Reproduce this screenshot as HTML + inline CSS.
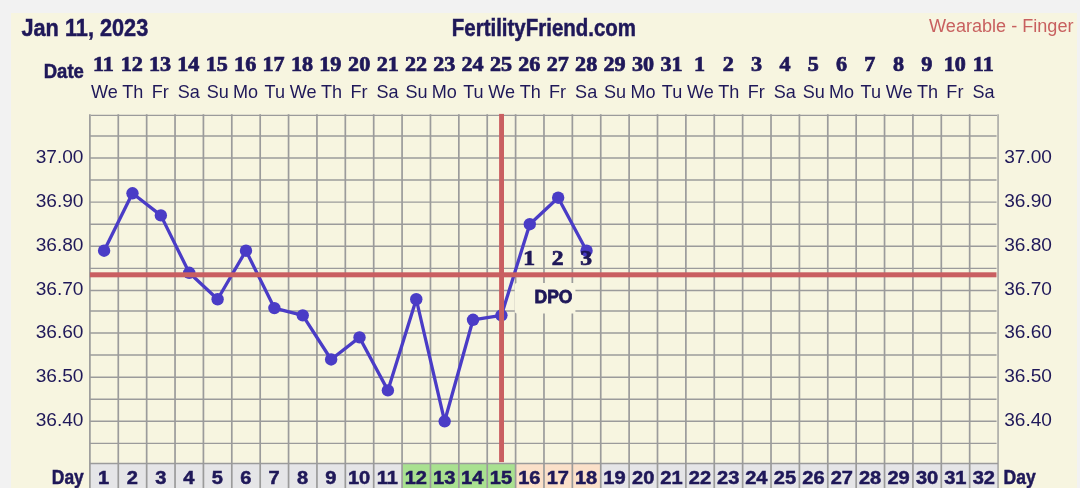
<!DOCTYPE html>
<html><head><meta charset="utf-8"><title>FertilityFriend chart</title>
<style>html,body{margin:0;padding:0;background:#f2f2f2;overflow:hidden}body{width:1080px;height:488px;font-family:"Liberation Sans",sans-serif}svg text{white-space:pre}</style>
</head><body>
<svg width="1080" height="488" viewBox="0 0 1080 488" style="display:block;will-change:transform">
<rect x="0" y="0" width="1080" height="488" fill="#f2f2f2"/>
<rect x="11" y="13" width="1066" height="480" fill="#f7f5e0"/>
<rect x="89.90" y="463.50" width="28.43" height="30" fill="#e5e5e7"/>
<rect x="118.28" y="463.50" width="28.43" height="30" fill="#e5e5e7"/>
<rect x="146.66" y="463.50" width="28.43" height="30" fill="#e5e5e7"/>
<rect x="175.04" y="463.50" width="28.43" height="30" fill="#e5e5e7"/>
<rect x="203.42" y="463.50" width="28.43" height="30" fill="#e5e5e7"/>
<rect x="231.80" y="463.50" width="28.43" height="30" fill="#e5e5e7"/>
<rect x="260.18" y="463.50" width="28.43" height="30" fill="#e5e5e7"/>
<rect x="288.56" y="463.50" width="28.43" height="30" fill="#e5e5e7"/>
<rect x="316.94" y="463.50" width="28.43" height="30" fill="#e5e5e7"/>
<rect x="345.32" y="463.50" width="28.43" height="30" fill="#e5e5e7"/>
<rect x="373.70" y="463.50" width="28.43" height="30" fill="#e5e5e7"/>
<rect x="402.08" y="463.50" width="28.43" height="30" fill="#a9e190"/>
<rect x="430.46" y="463.50" width="28.43" height="30" fill="#a9e190"/>
<rect x="458.84" y="463.50" width="28.43" height="30" fill="#a9e190"/>
<rect x="487.22" y="463.50" width="28.43" height="30" fill="#a9e190"/>
<rect x="515.60" y="463.50" width="28.43" height="30" fill="#fbe0c9"/>
<rect x="543.98" y="463.50" width="28.43" height="30" fill="#fbe0c9"/>
<rect x="572.36" y="463.50" width="28.43" height="30" fill="#fbe0c9"/>
<rect x="600.74" y="463.50" width="28.43" height="30" fill="#e5e5e7"/>
<rect x="629.12" y="463.50" width="28.43" height="30" fill="#e5e5e7"/>
<rect x="657.50" y="463.50" width="28.43" height="30" fill="#e5e5e7"/>
<rect x="685.88" y="463.50" width="28.43" height="30" fill="#e5e5e7"/>
<rect x="714.26" y="463.50" width="28.43" height="30" fill="#e5e5e7"/>
<rect x="742.64" y="463.50" width="28.43" height="30" fill="#e5e5e7"/>
<rect x="771.02" y="463.50" width="28.43" height="30" fill="#e5e5e7"/>
<rect x="799.40" y="463.50" width="28.43" height="30" fill="#e5e5e7"/>
<rect x="827.78" y="463.50" width="28.43" height="30" fill="#e5e5e7"/>
<rect x="856.16" y="463.50" width="28.43" height="30" fill="#e5e5e7"/>
<rect x="884.54" y="463.50" width="28.43" height="30" fill="#e5e5e7"/>
<rect x="912.92" y="463.50" width="28.43" height="30" fill="#e5e5e7"/>
<rect x="941.30" y="463.50" width="28.43" height="30" fill="#e5e5e7"/>
<rect x="969.68" y="463.50" width="28.43" height="30" fill="#e5e5e7"/>
<g stroke="#9b9b9b" stroke-width="1.6" fill="none">
<line x1="89.90" x2="996.56" y1="135.93" y2="135.93" stroke-width="1.45"/>
<line x1="89.90" x2="996.56" y1="158.00" y2="158.00" stroke-width="1.45"/>
<line x1="89.90" x2="996.56" y1="180.07" y2="180.07" stroke-width="1.45"/>
<line x1="89.90" x2="996.56" y1="202.14" y2="202.14" stroke-width="1.45"/>
<line x1="89.90" x2="996.56" y1="224.21" y2="224.21" stroke-width="1.45"/>
<line x1="89.90" x2="996.56" y1="246.28" y2="246.28" stroke-width="1.45"/>
<line x1="89.90" x2="996.56" y1="268.35" y2="268.35" stroke-width="1.45"/>
<line x1="89.90" x2="996.56" y1="290.42" y2="290.42" stroke-width="1.45"/>
<line x1="89.90" x2="996.56" y1="310.94" y2="310.94" stroke-width="1.45"/>
<line x1="89.90" x2="996.56" y1="333.01" y2="333.01" stroke-width="1.45"/>
<line x1="89.90" x2="996.56" y1="355.08" y2="355.08" stroke-width="1.45"/>
<line x1="89.90" x2="996.56" y1="377.15" y2="377.15" stroke-width="1.45"/>
<line x1="89.90" x2="996.56" y1="399.22" y2="399.22" stroke-width="1.45"/>
<line x1="89.90" x2="996.56" y1="421.29" y2="421.29" stroke-width="1.45"/>
<line x1="89.90" x2="996.56" y1="443.36" y2="443.36" stroke-width="1.45"/>
<line x1="90.70" x2="997.06" y1="115.40" y2="115.40" stroke-width="1.4"/>
<line x1="89.90" x2="998.06" y1="463.50" y2="463.50" stroke-width="1.4"/>
<line x1="89.90" x2="89.90" y1="114.20" y2="490" stroke-width="1.7"/>
<line x1="118.28" x2="118.28" y1="114.20" y2="490" stroke-width="1.7"/>
<line x1="146.66" x2="146.66" y1="114.20" y2="490" stroke-width="1.7"/>
<line x1="175.04" x2="175.04" y1="114.20" y2="490" stroke-width="1.7"/>
<line x1="203.42" x2="203.42" y1="114.20" y2="490" stroke-width="1.7"/>
<line x1="231.80" x2="231.80" y1="114.20" y2="490" stroke-width="1.7"/>
<line x1="260.18" x2="260.18" y1="114.20" y2="490" stroke-width="1.7"/>
<line x1="288.56" x2="288.56" y1="114.20" y2="490" stroke-width="1.7"/>
<line x1="316.94" x2="316.94" y1="114.20" y2="490" stroke-width="1.7"/>
<line x1="345.32" x2="345.32" y1="114.20" y2="490" stroke-width="1.7"/>
<line x1="373.70" x2="373.70" y1="114.20" y2="490" stroke-width="1.7"/>
<line x1="402.08" x2="402.08" y1="114.20" y2="490" stroke-width="1.7"/>
<line x1="430.46" x2="430.46" y1="114.20" y2="490" stroke-width="1.7"/>
<line x1="458.84" x2="458.84" y1="114.20" y2="490" stroke-width="1.7"/>
<line x1="487.22" x2="487.22" y1="114.20" y2="490" stroke-width="1.7"/>
<line x1="515.60" x2="515.60" y1="114.20" y2="490" stroke-width="1.7"/>
<line x1="543.98" x2="543.98" y1="114.20" y2="490" stroke-width="1.7"/>
<line x1="572.36" x2="572.36" y1="114.20" y2="490" stroke-width="1.7"/>
<line x1="600.74" x2="600.74" y1="114.20" y2="490" stroke-width="1.7"/>
<line x1="629.12" x2="629.12" y1="114.20" y2="490" stroke-width="1.7"/>
<line x1="657.50" x2="657.50" y1="114.20" y2="490" stroke-width="1.7"/>
<line x1="685.88" x2="685.88" y1="114.20" y2="490" stroke-width="1.7"/>
<line x1="714.26" x2="714.26" y1="114.20" y2="490" stroke-width="1.7"/>
<line x1="742.64" x2="742.64" y1="114.20" y2="490" stroke-width="1.7"/>
<line x1="771.02" x2="771.02" y1="114.20" y2="490" stroke-width="1.7"/>
<line x1="799.40" x2="799.40" y1="114.20" y2="490" stroke-width="1.7"/>
<line x1="827.78" x2="827.78" y1="114.20" y2="490" stroke-width="1.7"/>
<line x1="856.16" x2="856.16" y1="114.20" y2="490" stroke-width="1.7"/>
<line x1="884.54" x2="884.54" y1="114.20" y2="490" stroke-width="1.7"/>
<line x1="912.92" x2="912.92" y1="114.20" y2="490" stroke-width="1.7"/>
<line x1="941.30" x2="941.30" y1="114.20" y2="490" stroke-width="1.7"/>
<line x1="969.68" x2="969.68" y1="114.20" y2="490" stroke-width="1.7"/>
<line x1="998.06" x2="998.06" y1="114.20" y2="490" stroke-width="1.35"/>
</g>
<polyline fill="none" stroke="#4a3cc6" stroke-width="3.3" stroke-linejoin="round" points="104.09,250.69 132.47,193.31 160.85,215.38 189.23,272.76 217.61,299.25 245.99,250.69 274.37,308.08 302.75,315.35 331.13,359.49 359.51,337.42 387.89,390.39 416.27,299.25 444.65,421.29 473.03,319.77 501.41,315.35 529.79,224.21 558.17,197.73 586.55,250.69"/>
<circle cx="104.09" cy="250.69" r="6.2" fill="#4a3cc6"/>
<circle cx="132.47" cy="193.31" r="6.2" fill="#4a3cc6"/>
<circle cx="160.85" cy="215.38" r="6.2" fill="#4a3cc6"/>
<circle cx="189.23" cy="272.76" r="6.2" fill="#4a3cc6"/>
<circle cx="217.61" cy="299.25" r="6.2" fill="#4a3cc6"/>
<circle cx="245.99" cy="250.69" r="6.2" fill="#4a3cc6"/>
<circle cx="274.37" cy="308.08" r="6.2" fill="#4a3cc6"/>
<circle cx="302.75" cy="315.35" r="6.2" fill="#4a3cc6"/>
<circle cx="331.13" cy="359.49" r="6.2" fill="#4a3cc6"/>
<circle cx="359.51" cy="337.42" r="6.2" fill="#4a3cc6"/>
<circle cx="387.89" cy="390.39" r="6.2" fill="#4a3cc6"/>
<circle cx="416.27" cy="299.25" r="6.2" fill="#4a3cc6"/>
<circle cx="444.65" cy="421.29" r="6.2" fill="#4a3cc6"/>
<circle cx="473.03" cy="319.77" r="6.2" fill="#4a3cc6"/>
<circle cx="501.41" cy="315.35" r="6.2" fill="#4a3cc6"/>
<circle cx="529.79" cy="224.21" r="6.2" fill="#4a3cc6"/>
<circle cx="558.17" cy="197.73" r="6.2" fill="#4a3cc6"/>
<circle cx="586.55" cy="250.69" r="6.2" fill="#4a3cc6"/>
<rect x="89.90" y="272.3" width="906.56" height="5" fill="#c95f61"/>
<rect x="499.1" y="113.9" width="4.9" height="348.2" fill="#c95f61"/>
<rect x="514.8" y="283" width="60.6" height="30.5" rx="2" fill="#f7f5e0"/>
<text transform="translate(534.52,303.10) scale(0.9342,1)" font-family='"Liberation Sans", sans-serif' font-weight="bold" font-size="18.78" fill="#1f1859" stroke="#1f1859" stroke-width="0.8">DPO</text>
<text transform="translate(523.16,265.40) scale(1.1500,1)" font-family='"Liberation Serif", serif' font-weight="bold" font-size="20.54" fill="#1f1859" stroke="#1f1859" stroke-width="0.7">1</text>
<text transform="translate(551.86,265.40) scale(1.1500,1)" font-family='"Liberation Serif", serif' font-weight="bold" font-size="20.54" fill="#1f1859" stroke="#1f1859" stroke-width="0.7">2</text>
<text transform="translate(580.21,265.40) scale(1.1500,1)" font-family='"Liberation Serif", serif' font-weight="bold" font-size="20.54" fill="#1f1859" stroke="#1f1859" stroke-width="0.7">3</text>
<text transform="translate(21.47,35.70) scale(0.8859,1)" font-family='"Liberation Sans", sans-serif' font-weight="bold" font-size="24.52" fill="#1f1859"  stroke="#1f1859" stroke-width="0.5">Jan 11, 2023</text>
<text transform="translate(451.82,35.70) scale(0.8755,1)" font-family='"Liberation Sans", sans-serif' font-weight="bold" font-size="23.38" fill="#1f1859"  stroke="#1f1859" stroke-width="0.5">FertilityFriend.com</text>
<text transform="translate(929.11,31.90) scale(1.0328,1)" font-family='"Liberation Sans", sans-serif' font-weight="normal" font-size="17.52" fill="#c8605f" >Wearable - Finger</text>
<text transform="translate(43.75,78.30) scale(0.9365,1)" font-family='"Liberation Sans", sans-serif' font-weight="bold" font-size="19.78" fill="#1f1859"  stroke="#1f1859" stroke-width="0.5">Date</text>
<text transform="translate(93.04,70.80) scale(1.1000,1)" font-family='"Liberation Serif", serif' font-weight="bold" font-size="20.09" fill="#1f1859"  stroke="#1f1859" stroke-width="0.7">11</text>
<text transform="translate(91.04,97.50) scale(1.0200,1)" font-family='"Liberation Sans", sans-serif' font-weight="normal" font-size="17.73" fill="#1f1859" >We</text>
<text transform="translate(120.71,70.80) scale(1.1000,1)" font-family='"Liberation Serif", serif' font-weight="bold" font-size="20.09" fill="#1f1859"  stroke="#1f1859" stroke-width="0.7">12</text>
<text transform="translate(122.32,97.50) scale(1.0200,1)" font-family='"Liberation Sans", sans-serif' font-weight="normal" font-size="17.73" fill="#1f1859" >Th</text>
<text transform="translate(149.00,70.80) scale(1.1000,1)" font-family='"Liberation Serif", serif' font-weight="bold" font-size="20.09" fill="#1f1859"  stroke="#1f1859" stroke-width="0.7">13</text>
<text transform="translate(151.72,97.50) scale(1.0200,1)" font-family='"Liberation Sans", sans-serif' font-weight="normal" font-size="17.73" fill="#1f1859" >Fr</text>
<text transform="translate(177.19,70.80) scale(1.1000,1)" font-family='"Liberation Serif", serif' font-weight="bold" font-size="20.09" fill="#1f1859"  stroke="#1f1859" stroke-width="0.7">14</text>
<text transform="translate(177.77,97.50) scale(1.0200,1)" font-family='"Liberation Sans", sans-serif' font-weight="normal" font-size="17.73" fill="#1f1859" >Sa</text>
<text transform="translate(205.79,70.80) scale(1.1000,1)" font-family='"Liberation Serif", serif' font-weight="bold" font-size="20.09" fill="#1f1859"  stroke="#1f1859" stroke-width="0.7">15</text>
<text transform="translate(206.74,97.50) scale(1.0200,1)" font-family='"Liberation Sans", sans-serif' font-weight="normal" font-size="17.73" fill="#1f1859" >Su</text>
<text transform="translate(234.09,70.80) scale(1.1000,1)" font-family='"Liberation Serif", serif' font-weight="bold" font-size="20.09" fill="#1f1859"  stroke="#1f1859" stroke-width="0.7">16</text>
<text transform="translate(233.06,97.50) scale(1.0200,1)" font-family='"Liberation Sans", sans-serif' font-weight="normal" font-size="17.73" fill="#1f1859" >Mo</text>
<text transform="translate(262.41,70.80) scale(1.1000,1)" font-family='"Liberation Serif", serif' font-weight="bold" font-size="20.09" fill="#1f1859"  stroke="#1f1859" stroke-width="0.7">17</text>
<text transform="translate(264.54,97.50) scale(1.0200,1)" font-family='"Liberation Sans", sans-serif' font-weight="normal" font-size="17.73" fill="#1f1859" >Tu</text>
<text transform="translate(290.88,70.80) scale(1.1000,1)" font-family='"Liberation Serif", serif' font-weight="bold" font-size="20.09" fill="#1f1859"  stroke="#1f1859" stroke-width="0.7">18</text>
<text transform="translate(289.70,97.50) scale(1.0200,1)" font-family='"Liberation Sans", sans-serif' font-weight="normal" font-size="17.73" fill="#1f1859" >We</text>
<text transform="translate(319.28,70.80) scale(1.1000,1)" font-family='"Liberation Serif", serif' font-weight="bold" font-size="20.09" fill="#1f1859"  stroke="#1f1859" stroke-width="0.7">19</text>
<text transform="translate(320.98,97.50) scale(1.0200,1)" font-family='"Liberation Sans", sans-serif' font-weight="normal" font-size="17.73" fill="#1f1859" >Th</text>
<text transform="translate(348.10,70.80) scale(1.1000,1)" font-family='"Liberation Serif", serif' font-weight="bold" font-size="20.09" fill="#1f1859"  stroke="#1f1859" stroke-width="0.7">20</text>
<text transform="translate(350.38,97.50) scale(1.0200,1)" font-family='"Liberation Sans", sans-serif' font-weight="normal" font-size="17.73" fill="#1f1859" >Fr</text>
<text transform="translate(376.65,70.80) scale(1.1000,1)" font-family='"Liberation Serif", serif' font-weight="bold" font-size="20.09" fill="#1f1859"  stroke="#1f1859" stroke-width="0.7">21</text>
<text transform="translate(376.43,97.50) scale(1.0200,1)" font-family='"Liberation Sans", sans-serif' font-weight="normal" font-size="17.73" fill="#1f1859" >Sa</text>
<text transform="translate(404.92,70.80) scale(1.1000,1)" font-family='"Liberation Serif", serif' font-weight="bold" font-size="20.09" fill="#1f1859"  stroke="#1f1859" stroke-width="0.7">22</text>
<text transform="translate(405.40,97.50) scale(1.0200,1)" font-family='"Liberation Sans", sans-serif' font-weight="normal" font-size="17.73" fill="#1f1859" >Su</text>
<text transform="translate(433.22,70.80) scale(1.1000,1)" font-family='"Liberation Serif", serif' font-weight="bold" font-size="20.09" fill="#1f1859"  stroke="#1f1859" stroke-width="0.7">23</text>
<text transform="translate(431.72,97.50) scale(1.0200,1)" font-family='"Liberation Sans", sans-serif' font-weight="normal" font-size="17.73" fill="#1f1859" >Mo</text>
<text transform="translate(461.40,70.80) scale(1.1000,1)" font-family='"Liberation Serif", serif' font-weight="bold" font-size="20.09" fill="#1f1859"  stroke="#1f1859" stroke-width="0.7">24</text>
<text transform="translate(463.20,97.50) scale(1.0200,1)" font-family='"Liberation Sans", sans-serif' font-weight="normal" font-size="17.73" fill="#1f1859" >Tu</text>
<text transform="translate(490.00,70.80) scale(1.1000,1)" font-family='"Liberation Serif", serif' font-weight="bold" font-size="20.09" fill="#1f1859"  stroke="#1f1859" stroke-width="0.7">25</text>
<text transform="translate(488.36,97.50) scale(1.0200,1)" font-family='"Liberation Sans", sans-serif' font-weight="normal" font-size="17.73" fill="#1f1859" >We</text>
<text transform="translate(518.30,70.80) scale(1.1000,1)" font-family='"Liberation Serif", serif' font-weight="bold" font-size="20.09" fill="#1f1859"  stroke="#1f1859" stroke-width="0.7">26</text>
<text transform="translate(519.64,97.50) scale(1.0200,1)" font-family='"Liberation Sans", sans-serif' font-weight="normal" font-size="17.73" fill="#1f1859" >Th</text>
<text transform="translate(546.63,70.80) scale(1.1000,1)" font-family='"Liberation Serif", serif' font-weight="bold" font-size="20.09" fill="#1f1859"  stroke="#1f1859" stroke-width="0.7">27</text>
<text transform="translate(549.04,97.50) scale(1.0200,1)" font-family='"Liberation Sans", sans-serif' font-weight="normal" font-size="17.73" fill="#1f1859" >Fr</text>
<text transform="translate(575.09,70.80) scale(1.1000,1)" font-family='"Liberation Serif", serif' font-weight="bold" font-size="20.09" fill="#1f1859"  stroke="#1f1859" stroke-width="0.7">28</text>
<text transform="translate(575.09,97.50) scale(1.0200,1)" font-family='"Liberation Sans", sans-serif' font-weight="normal" font-size="17.73" fill="#1f1859" >Sa</text>
<text transform="translate(603.50,70.80) scale(1.1000,1)" font-family='"Liberation Serif", serif' font-weight="bold" font-size="20.09" fill="#1f1859"  stroke="#1f1859" stroke-width="0.7">29</text>
<text transform="translate(604.06,97.50) scale(1.0200,1)" font-family='"Liberation Sans", sans-serif' font-weight="normal" font-size="17.73" fill="#1f1859" >Su</text>
<text transform="translate(631.96,70.80) scale(1.1000,1)" font-family='"Liberation Serif", serif' font-weight="bold" font-size="20.09" fill="#1f1859"  stroke="#1f1859" stroke-width="0.7">30</text>
<text transform="translate(630.38,97.50) scale(1.0200,1)" font-family='"Liberation Sans", sans-serif' font-weight="normal" font-size="17.73" fill="#1f1859" >Mo</text>
<text transform="translate(660.51,70.80) scale(1.1000,1)" font-family='"Liberation Serif", serif' font-weight="bold" font-size="20.09" fill="#1f1859"  stroke="#1f1859" stroke-width="0.7">31</text>
<text transform="translate(661.86,97.50) scale(1.0200,1)" font-family='"Liberation Sans", sans-serif' font-weight="normal" font-size="17.73" fill="#1f1859" >Tu</text>
<text transform="translate(693.94,70.80) scale(1.1000,1)" font-family='"Liberation Serif", serif' font-weight="bold" font-size="20.09" fill="#1f1859"  stroke="#1f1859" stroke-width="0.7">1</text>
<text transform="translate(687.02,97.50) scale(1.0200,1)" font-family='"Liberation Sans", sans-serif' font-weight="normal" font-size="17.73" fill="#1f1859" >We</text>
<text transform="translate(722.63,70.80) scale(1.1000,1)" font-family='"Liberation Serif", serif' font-weight="bold" font-size="20.09" fill="#1f1859"  stroke="#1f1859" stroke-width="0.7">2</text>
<text transform="translate(718.30,97.50) scale(1.0200,1)" font-family='"Liberation Sans", sans-serif' font-weight="normal" font-size="17.73" fill="#1f1859" >Th</text>
<text transform="translate(750.98,70.80) scale(1.1000,1)" font-family='"Liberation Serif", serif' font-weight="bold" font-size="20.09" fill="#1f1859"  stroke="#1f1859" stroke-width="0.7">3</text>
<text transform="translate(747.70,97.50) scale(1.0200,1)" font-family='"Liberation Sans", sans-serif' font-weight="normal" font-size="17.73" fill="#1f1859" >Fr</text>
<text transform="translate(779.44,70.80) scale(1.1000,1)" font-family='"Liberation Serif", serif' font-weight="bold" font-size="20.09" fill="#1f1859"  stroke="#1f1859" stroke-width="0.7">4</text>
<text transform="translate(773.75,97.50) scale(1.0200,1)" font-family='"Liberation Sans", sans-serif' font-weight="normal" font-size="17.73" fill="#1f1859" >Sa</text>
<text transform="translate(807.74,70.80) scale(1.1000,1)" font-family='"Liberation Serif", serif' font-weight="bold" font-size="20.09" fill="#1f1859"  stroke="#1f1859" stroke-width="0.7">5</text>
<text transform="translate(802.72,97.50) scale(1.0200,1)" font-family='"Liberation Sans", sans-serif' font-weight="normal" font-size="17.73" fill="#1f1859" >Su</text>
<text transform="translate(836.09,70.80) scale(1.1000,1)" font-family='"Liberation Serif", serif' font-weight="bold" font-size="20.09" fill="#1f1859"  stroke="#1f1859" stroke-width="0.7">6</text>
<text transform="translate(829.04,97.50) scale(1.0200,1)" font-family='"Liberation Sans", sans-serif' font-weight="normal" font-size="17.73" fill="#1f1859" >Mo</text>
<text transform="translate(864.17,70.80) scale(1.1000,1)" font-family='"Liberation Serif", serif' font-weight="bold" font-size="20.09" fill="#1f1859"  stroke="#1f1859" stroke-width="0.7">7</text>
<text transform="translate(860.52,97.50) scale(1.0200,1)" font-family='"Liberation Sans", sans-serif' font-weight="normal" font-size="17.73" fill="#1f1859" >Tu</text>
<text transform="translate(892.91,70.80) scale(1.1000,1)" font-family='"Liberation Serif", serif' font-weight="bold" font-size="20.09" fill="#1f1859"  stroke="#1f1859" stroke-width="0.7">8</text>
<text transform="translate(885.68,97.50) scale(1.0200,1)" font-family='"Liberation Sans", sans-serif' font-weight="normal" font-size="17.73" fill="#1f1859" >We</text>
<text transform="translate(921.37,70.80) scale(1.1000,1)" font-family='"Liberation Serif", serif' font-weight="bold" font-size="20.09" fill="#1f1859"  stroke="#1f1859" stroke-width="0.7">9</text>
<text transform="translate(916.96,97.50) scale(1.0200,1)" font-family='"Liberation Sans", sans-serif' font-weight="normal" font-size="17.73" fill="#1f1859" >Th</text>
<text transform="translate(943.67,70.80) scale(1.1000,1)" font-family='"Liberation Serif", serif' font-weight="bold" font-size="20.09" fill="#1f1859"  stroke="#1f1859" stroke-width="0.7">10</text>
<text transform="translate(946.36,97.50) scale(1.0200,1)" font-family='"Liberation Sans", sans-serif' font-weight="normal" font-size="17.73" fill="#1f1859" >Fr</text>
<text transform="translate(972.82,70.80) scale(1.1000,1)" font-family='"Liberation Serif", serif' font-weight="bold" font-size="20.09" fill="#1f1859"  stroke="#1f1859" stroke-width="0.7">11</text>
<text transform="translate(972.41,97.50) scale(1.0200,1)" font-family='"Liberation Sans", sans-serif' font-weight="normal" font-size="17.73" fill="#1f1859" >Sa</text>
<text transform="translate(35.68,162.70) scale(1.0938,1)" font-family='"Liberation Sans", sans-serif' font-weight="normal" font-size="17.48" fill="#1f1859" >37.00</text>
<text transform="translate(1004.18,162.70) scale(1.0938,1)" font-family='"Liberation Sans", sans-serif' font-weight="normal" font-size="17.48" fill="#1f1859" >37.00</text>
<text transform="translate(35.68,206.80) scale(1.0938,1)" font-family='"Liberation Sans", sans-serif' font-weight="normal" font-size="17.48" fill="#1f1859" >36.90</text>
<text transform="translate(1004.18,206.80) scale(1.0938,1)" font-family='"Liberation Sans", sans-serif' font-weight="normal" font-size="17.48" fill="#1f1859" >36.90</text>
<text transform="translate(35.68,250.90) scale(1.0938,1)" font-family='"Liberation Sans", sans-serif' font-weight="normal" font-size="17.48" fill="#1f1859" >36.80</text>
<text transform="translate(1004.18,250.90) scale(1.0938,1)" font-family='"Liberation Sans", sans-serif' font-weight="normal" font-size="17.48" fill="#1f1859" >36.80</text>
<text transform="translate(35.68,295.00) scale(1.0938,1)" font-family='"Liberation Sans", sans-serif' font-weight="normal" font-size="17.48" fill="#1f1859" >36.70</text>
<text transform="translate(1004.18,295.00) scale(1.0938,1)" font-family='"Liberation Sans", sans-serif' font-weight="normal" font-size="17.48" fill="#1f1859" >36.70</text>
<text transform="translate(35.68,337.60) scale(1.0938,1)" font-family='"Liberation Sans", sans-serif' font-weight="normal" font-size="17.48" fill="#1f1859" >36.60</text>
<text transform="translate(1004.18,337.60) scale(1.0938,1)" font-family='"Liberation Sans", sans-serif' font-weight="normal" font-size="17.48" fill="#1f1859" >36.60</text>
<text transform="translate(35.68,381.60) scale(1.0938,1)" font-family='"Liberation Sans", sans-serif' font-weight="normal" font-size="17.48" fill="#1f1859" >36.50</text>
<text transform="translate(1004.18,381.60) scale(1.0938,1)" font-family='"Liberation Sans", sans-serif' font-weight="normal" font-size="17.48" fill="#1f1859" >36.50</text>
<text transform="translate(35.68,425.80) scale(1.0938,1)" font-family='"Liberation Sans", sans-serif' font-weight="normal" font-size="17.48" fill="#1f1859" >36.40</text>
<text transform="translate(1004.18,425.80) scale(1.0938,1)" font-family='"Liberation Sans", sans-serif' font-weight="normal" font-size="17.48" fill="#1f1859" >36.40</text>
<text transform="translate(51.82,483.70) scale(0.8818,1)" font-family='"Liberation Sans", sans-serif' font-weight="bold" font-size="19.78" fill="#1f1859"  stroke="#1f1859" stroke-width="0.5">Day</text>
<text transform="translate(1003.51,483.70) scale(0.8810,1)" font-family='"Liberation Sans", sans-serif' font-weight="bold" font-size="19.93" fill="#1f1859"  stroke="#1f1859" stroke-width="0.5">Day</text>
<text transform="translate(97.97,484.10) scale(1.1200,1)" font-family='"Liberation Sans", sans-serif' font-weight="bold" font-size="17.91" fill="#1f1859"  stroke="#1f1859" stroke-width="0.5">1</text>
<text transform="translate(126.75,484.10) scale(1.1200,1)" font-family='"Liberation Sans", sans-serif' font-weight="bold" font-size="17.91" fill="#1f1859"  stroke="#1f1859" stroke-width="0.5">2</text>
<text transform="translate(155.21,484.10) scale(1.1200,1)" font-family='"Liberation Sans", sans-serif' font-weight="bold" font-size="17.91" fill="#1f1859"  stroke="#1f1859" stroke-width="0.5">3</text>
<text transform="translate(183.36,484.10) scale(1.1200,1)" font-family='"Liberation Sans", sans-serif' font-weight="bold" font-size="17.91" fill="#1f1859"  stroke="#1f1859" stroke-width="0.5">4</text>
<text transform="translate(211.82,484.10) scale(1.1200,1)" font-family='"Liberation Sans", sans-serif' font-weight="bold" font-size="17.91" fill="#1f1859"  stroke="#1f1859" stroke-width="0.5">5</text>
<text transform="translate(240.20,484.10) scale(1.1200,1)" font-family='"Liberation Sans", sans-serif' font-weight="bold" font-size="17.91" fill="#1f1859"  stroke="#1f1859" stroke-width="0.5">6</text>
<text transform="translate(268.60,484.10) scale(1.1200,1)" font-family='"Liberation Sans", sans-serif' font-weight="bold" font-size="17.91" fill="#1f1859"  stroke="#1f1859" stroke-width="0.5">7</text>
<text transform="translate(296.96,484.10) scale(1.1200,1)" font-family='"Liberation Sans", sans-serif' font-weight="bold" font-size="17.91" fill="#1f1859"  stroke="#1f1859" stroke-width="0.5">8</text>
<text transform="translate(325.36,484.10) scale(1.1200,1)" font-family='"Liberation Sans", sans-serif' font-weight="bold" font-size="17.91" fill="#1f1859"  stroke="#1f1859" stroke-width="0.5">9</text>
<text transform="translate(347.95,484.10) scale(1.1200,1)" font-family='"Liberation Sans", sans-serif' font-weight="bold" font-size="17.91" fill="#1f1859"  stroke="#1f1859" stroke-width="0.5">10</text>
<text transform="translate(376.76,484.10) scale(1.1200,1)" font-family='"Liberation Sans", sans-serif' font-weight="bold" font-size="17.91" fill="#1f1859"  stroke="#1f1859" stroke-width="0.5">11</text>
<text transform="translate(404.71,484.10) scale(1.1200,1)" font-family='"Liberation Sans", sans-serif' font-weight="bold" font-size="17.91" fill="#1f1859"  stroke="#1f1859" stroke-width="0.5">12</text>
<text transform="translate(433.04,484.10) scale(1.1200,1)" font-family='"Liberation Sans", sans-serif' font-weight="bold" font-size="17.91" fill="#1f1859"  stroke="#1f1859" stroke-width="0.5">13</text>
<text transform="translate(461.12,484.10) scale(1.1200,1)" font-family='"Liberation Sans", sans-serif' font-weight="bold" font-size="17.91" fill="#1f1859"  stroke="#1f1859" stroke-width="0.5">14</text>
<text transform="translate(489.73,484.10) scale(1.1200,1)" font-family='"Liberation Sans", sans-serif' font-weight="bold" font-size="17.91" fill="#1f1859"  stroke="#1f1859" stroke-width="0.5">15</text>
<text transform="translate(518.18,484.10) scale(1.1200,1)" font-family='"Liberation Sans", sans-serif' font-weight="bold" font-size="17.91" fill="#1f1859"  stroke="#1f1859" stroke-width="0.5">16</text>
<text transform="translate(546.64,484.10) scale(1.1200,1)" font-family='"Liberation Sans", sans-serif' font-weight="bold" font-size="17.91" fill="#1f1859"  stroke="#1f1859" stroke-width="0.5">17</text>
<text transform="translate(574.89,484.10) scale(1.1200,1)" font-family='"Liberation Sans", sans-serif' font-weight="bold" font-size="17.91" fill="#1f1859"  stroke="#1f1859" stroke-width="0.5">18</text>
<text transform="translate(603.32,484.10) scale(1.1200,1)" font-family='"Liberation Sans", sans-serif' font-weight="bold" font-size="17.91" fill="#1f1859"  stroke="#1f1859" stroke-width="0.5">19</text>
<text transform="translate(632.03,484.10) scale(1.1200,1)" font-family='"Liberation Sans", sans-serif' font-weight="bold" font-size="17.91" fill="#1f1859"  stroke="#1f1859" stroke-width="0.5">20</text>
<text transform="translate(660.28,484.10) scale(1.1200,1)" font-family='"Liberation Sans", sans-serif' font-weight="bold" font-size="17.91" fill="#1f1859"  stroke="#1f1859" stroke-width="0.5">21</text>
<text transform="translate(688.79,484.10) scale(1.1200,1)" font-family='"Liberation Sans", sans-serif' font-weight="bold" font-size="17.91" fill="#1f1859"  stroke="#1f1859" stroke-width="0.5">22</text>
<text transform="translate(717.12,484.10) scale(1.1200,1)" font-family='"Liberation Sans", sans-serif' font-weight="bold" font-size="17.91" fill="#1f1859"  stroke="#1f1859" stroke-width="0.5">23</text>
<text transform="translate(745.20,484.10) scale(1.1200,1)" font-family='"Liberation Sans", sans-serif' font-weight="bold" font-size="17.91" fill="#1f1859"  stroke="#1f1859" stroke-width="0.5">24</text>
<text transform="translate(773.80,484.10) scale(1.1200,1)" font-family='"Liberation Sans", sans-serif' font-weight="bold" font-size="17.91" fill="#1f1859"  stroke="#1f1859" stroke-width="0.5">25</text>
<text transform="translate(802.26,484.10) scale(1.1200,1)" font-family='"Liberation Sans", sans-serif' font-weight="bold" font-size="17.91" fill="#1f1859"  stroke="#1f1859" stroke-width="0.5">26</text>
<text transform="translate(830.71,484.10) scale(1.1200,1)" font-family='"Liberation Sans", sans-serif' font-weight="bold" font-size="17.91" fill="#1f1859"  stroke="#1f1859" stroke-width="0.5">27</text>
<text transform="translate(858.97,484.10) scale(1.1200,1)" font-family='"Liberation Sans", sans-serif' font-weight="bold" font-size="17.91" fill="#1f1859"  stroke="#1f1859" stroke-width="0.5">28</text>
<text transform="translate(887.40,484.10) scale(1.1200,1)" font-family='"Liberation Sans", sans-serif' font-weight="bold" font-size="17.91" fill="#1f1859"  stroke="#1f1859" stroke-width="0.5">29</text>
<text transform="translate(915.95,484.10) scale(1.1200,1)" font-family='"Liberation Sans", sans-serif' font-weight="bold" font-size="17.91" fill="#1f1859"  stroke="#1f1859" stroke-width="0.5">30</text>
<text transform="translate(944.21,484.10) scale(1.1200,1)" font-family='"Liberation Sans", sans-serif' font-weight="bold" font-size="17.91" fill="#1f1859"  stroke="#1f1859" stroke-width="0.5">31</text>
<text transform="translate(972.71,484.10) scale(1.1200,1)" font-family='"Liberation Sans", sans-serif' font-weight="bold" font-size="17.91" fill="#1f1859"  stroke="#1f1859" stroke-width="0.5">32</text>
</svg>
</body></html>
